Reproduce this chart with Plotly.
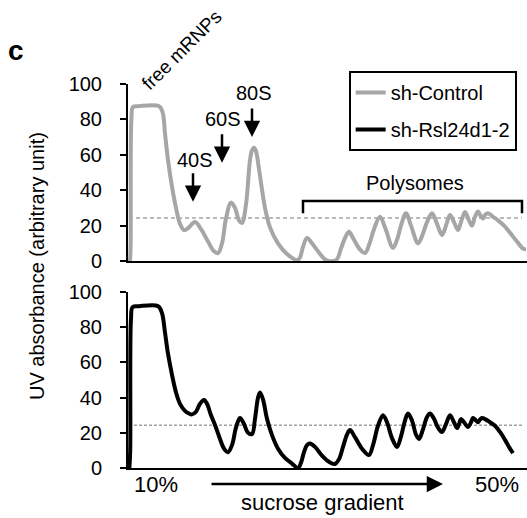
import plotly.graph_objects as go

# Position along the gradient (arbitrary units, top = 0) and UV absorbance
ctrl_x = [0.25, 0.4, 0.6, 1.0, 2.5, 7.5, 8.4, 9.0, 9.75, 10.75, 11.75, 12.75, 13.75, 14.75, 16.5,
          18, 19.75, 21.25, 22.25, 23.25, 24.25, 25.5, 26.5, 27.5, 28.25, 29.25, 30.25, 30.75,
          31.25, 31.75, 32.5, 34, 35.25, 37.25, 39.5, 42, 42.75, 43.5, 44.5, 45.75, 47.75,
          49.25, 51, 52, 53, 54, 55, 56, 57.75, 59, 60, 61.25, 62.75, 64, 66, 67, 68, 69.25,
          70.5, 72.25, 73.25, 74.5, 75.75, 77, 78.25, 79.25, 80.25, 81.25, 82.25, 83, 84, 85,
          85.75, 86.5, 87.25, 88, 88.5, 89, 89.75, 91, 92.25, 93.75, 95.25, 97, 98.5, 99.25]
ctrl_y = [0, 8, 80, 87, 87.5, 87.5, 84, 72, 57, 42, 30, 21, 17.5, 18.5, 22,
          18, 11, 5.5, 4.5, 10, 24, 33, 30, 23, 21.5, 32, 57, 62.5,
          64, 62, 52, 30, 19, 10, 4, 0.5, 2, 8, 13, 10, 4,
          0.5, 0, 1, 7, 13, 16.5, 13, 6.5, 4.5, 9, 18, 25, 19, 7.5, 12, 20, 27,
          20, 10, 14, 22, 27, 21, 14.7, 20, 26, 22, 17.5, 22, 27.7, 23,
          20, 25, 28, 25, 24, 26, 27, 25, 23, 20, 16, 11, 7, 6.5]

kd_x = [0.1, 0.3, 0.5, 0.9, 2.5, 7.3, 8.25, 9, 9.75, 10.75, 11.75, 12.75, 14, 15, 15.75, 16.75,
        17.75, 18.75, 19.5, 20.5, 21.5, 22.75, 23.75, 24.75, 25.75, 26.75, 27.75, 28.75,
        29.75, 30.75, 31.5, 32.25, 32.75, 33.5, 34.5, 35.75, 37.25, 39, 40.75, 42.25, 43,
        43.75, 44.5, 45.25, 46.5, 48.25, 50, 51.5, 52.5, 53.5, 54.5, 55.25, 56.5, 58.25, 60,
        61, 62.25, 63.5, 64.5, 65.75, 67, 68, 69, 69.75, 70.75, 71.75, 72.5, 73.5, 74.5,
        75.25, 76.25, 77.25, 78.25, 79.25, 80.25, 81.25, 82, 82.5, 83, 83.75, 84.75, 85.5,
        86, 86.75, 87.25, 87.75, 88.25, 89.25, 90.25, 91.5, 92.75, 94, 95.25, 96]
kd_y = [0, 10, 85, 91.5, 92, 92, 88, 77, 65, 53, 43, 36.5, 32.5, 31, 30.5, 32,
        36.5, 38.6, 36.5, 30, 24.5, 16.5, 11, 9, 13, 23, 28.4, 25,
        20, 19.3, 28, 40, 43, 39, 28, 18.7, 11, 5.7, 2.5, 0, 3,
        9, 13, 14, 12, 7, 3.5, 2.3, 5, 12, 19, 21.6, 17.5, 11, 7.4,
        13, 24, 30, 26, 17, 12, 18, 27, 31, 27, 19, 16.5, 22, 29,
        31, 28, 23, 20.5, 25, 30, 26, 22.7, 25, 27.8, 26, 23.3, 26,
        28.4, 27, 26, 27.5, 28.4, 27.5, 26, 24, 20.5, 16, 11, 8.5]

series_names = ["sh-Control", "sh-Rsl24d1-2"]
series_colors = ["#a6a6a6", "#000000"]

# Peak labels (text, x, label height, arrow x, arrow tail, arrow tip)
peaks = [("40S", 16.5, 57, 16.0, 50.5, 33.5),
         ("60S", 23.5, 80, 23.25, 72.5, 55.5),
         ("80S", 31.25, 95, 30.75, 87, 70)]
baseline_level = 24.3
polysome_span = [43.5, 98.25]
gradient_ends = ["10%", "50%"]

FONT = "Liberation Sans, Arial, sans-serif"

fig = go.Figure()
fig.add_trace(go.Scatter(x=ctrl_x, y=ctrl_y, mode="lines", name=series_names[0],
                         line=dict(color=series_colors[0], width=4, shape="spline", smoothing=1.0),
                         xaxis="x", yaxis="y", legendgroup="a"))
fig.add_trace(go.Scatter(x=kd_x, y=kd_y, mode="lines", name=series_names[1],
                         line=dict(color=series_colors[1], width=4, shape="spline", smoothing=1.0),
                         xaxis="x2", yaxis="y2", legendgroup="b"))

xcommon = dict(range=[-0.25, 99.5], showline=True, linecolor="black", linewidth=2,
               showticklabels=False, ticks="", showgrid=False, zeroline=False)
ycommon = dict(range=[0, 100], dtick=20, showline=True, linecolor="black", linewidth=2,
               ticks="outside", ticklen=6, tickwidth=2, tickcolor="black",
               showgrid=False, zeroline=False, ticklabelstandoff=14,
               tickfont=dict(family=FONT, size=20, color="black"))

shapes = []
for xr, yr, dash, col, w in [("x", "y", "4px,3px", "#777777", 1), ("x2", "y2", "3px,2px", "#a0a0a0", 1.5)]:
    shapes.append(dict(type="line", xref=xr, yref=yr, x0=0, x1=98.25,
                       y0=baseline_level, y1=baseline_level,
                       line=dict(color=col, width=w, dash=dash), layer="below"))
# bracket over the polysome region
shapes.append(dict(type="path", xref="x", yref="y",
                   path=f"M {polysome_span[0]},27 L {polysome_span[0]},33.9 "
                        f"L {polysome_span[1]},33.9 L {polysome_span[1]},27",
                   line=dict(color="black", width=2.5)))


def text_ann(x, y, text, xref, yref, size=20, **kw):
    return dict(x=x, y=y, xref=xref, yref=yref, text=text, showarrow=False,
                xanchor="center", yanchor="middle",
                font=dict(family=FONT, size=size, color="black"), **kw)


ann = []
for label, tx, ty, ax_, tail, tip in peaks:
    ann.append(text_ann(tx, ty, label, "x", "y"))
    ann.append(dict(x=ax_, y=tip, xref="x", yref="y", ax=ax_, ay=tail, axref="x", ayref="y",
                    text="", showarrow=True, arrowhead=2, arrowsize=1.3, arrowwidth=2.5,
                    arrowcolor="black"))
ann.append(text_ann(71.5, 44, "Polysomes", "x", "y"))
ann.append(text_ann(0.133, 1.088, "free mRNPs", "paper", "paper", size=19, textangle=-45))
ann.append(text_ann(-0.281, 1.086, "<b>c</b>", "paper", "paper", size=28))
ann.append(text_ann(-0.228, 0.526, "UV absorbance (arbitrary unit)", "paper", "paper",
                    textangle=-90))
ann.append(text_ann(6.75, -0.044, gradient_ends[0], "x2", "paper", size=22))
ann.append(text_ann(92.0, -0.044, gradient_ends[1], "x2", "paper", size=22))
ann.append(text_ann(48.4, -0.091, "sucrose gradient", "x2", "paper", size=22))
ann.append(dict(x=78.5, y=-0.0417, xref="x2", yref="paper", ax=-233, ay=0,
                text="", showarrow=True, arrowhead=2, arrowsize=1.3, arrowwidth=2.5,
                arrowcolor="black"))

fig.update_layout(
    width=527, height=518,
    margin=dict(l=128, r=0, t=84, b=50),
    paper_bgcolor="white", plot_bgcolor="white",
    font=dict(family=FONT, size=20, color="black"),
    xaxis=dict(domain=[0, 1], anchor="y", **xcommon),
    xaxis2=dict(domain=[0, 1], anchor="y2", **xcommon),
    yaxis=dict(domain=[0.539, 1], anchor="x", **ycommon),
    yaxis2=dict(domain=[0, 0.458], anchor="x2", **ycommon),
    shapes=shapes, annotations=ann,
    legend=dict(x=0.553, y=1.034, xanchor="left", yanchor="top",
                bordercolor="black", borderwidth=2, bgcolor="white",
                font=dict(family=FONT, size=20, color="black"),
                traceorder="grouped", tracegroupgap=8, itemwidth=30),
    showlegend=True,
)

fig.write_html("out.html")
